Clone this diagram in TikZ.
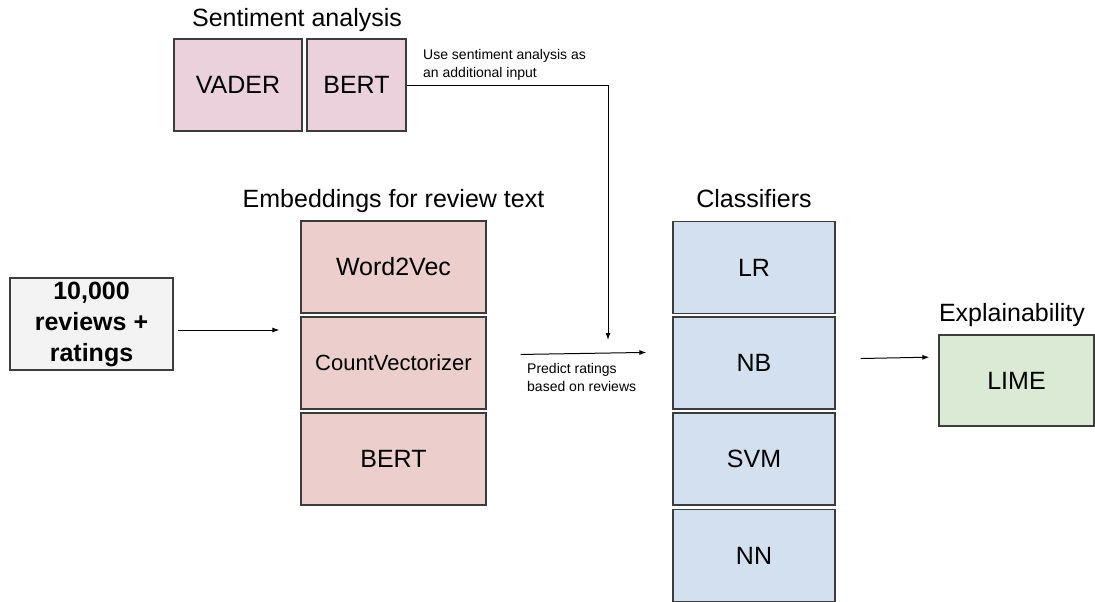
\documentclass[tikz,border=0pt]{standalone}
\usepackage{fontspec}
\setmainfont{Liberation Sans}
\usetikzlibrary{arrows.meta}
\definecolor{sentfill}{RGB}{234,209,220}
\definecolor{embfill}{RGB}{236,207,205}
\definecolor{clsfill}{RGB}{211,224,240}
\definecolor{limefill}{RGB}{218,234,212}
\definecolor{infill}{RGB}{243,243,243}
\definecolor{edge}{RGB}{60,60,60}

\begin{document}
\begin{tikzpicture}[x=1pt, y=-1pt,
        box/.style={draw=edge, line width=1.2pt, inner sep=0pt, minimum height=92pt, font=\fontsize{25}{30}\selectfont},
        title/.style={anchor=base, font=\fontsize{25}{30}\selectfont},
        note/.style={anchor=north west, inner sep=0pt, align=left, font=\fontsize{14}{18}\selectfont},
        arr/.style={-{Latex[length=7pt,width=5pt]}, line width=1pt}]
    \useasboundingbox (0,0) rectangle (1095,602);

    % Sentiment analysis
    \node[title] at (297,27) {Sentiment analysis};
    \node[box, fill=sentfill, minimum width=128pt] (vader) at (238,85) {VADER};
    \node[box, fill=sentfill, minimum width=99pt] (sbert) at (356.5,85) {BERT};

    % Input
    \node[box, fill=infill, minimum width=163pt, align=center, font=\bfseries\fontsize{25}{31}\selectfont] (in) at (91.5,324) {10,000\\reviews +\\ratings};

    % Embeddings
    \node[title] at (393.5,207) {Embeddings for review text};
    \node[box, fill=embfill, minimum width=185pt] (w2v) at (393.5,267) {Word2Vec};
    \node[box, fill=embfill, minimum width=185pt, font=\fontsize{22}{26}\selectfont] (cv) at (393.5,363) {CountVectorizer};
    \node[box, fill=embfill, minimum width=185pt] (ebert) at (393.5,459) {BERT};

    % Classifiers
    \node[title] at (754,207) {Classifiers};
    \foreach \lbl/\yy [count=\i] in {LR/267.5, NB/363, SVM/459, NN/555.5}
        \node[box, fill=clsfill, minimum width=162pt] (c\i) at (754,\yy) {\lbl};

    % Explainability
    \node[title] at (1012,321) {Explainability};
    \node[box, fill=limefill, minimum width=155pt, minimum height=91pt] (lime) at (1016.5,380.5) {LIME};

    % Arrows
    \coordinate (join) at (608,340);
    \draw[arr] (sbert.east) -| (join);
    \node[note] at (423,49) {Use sentiment analysis as\\an additional input};

    \draw[arr, shorten <=4pt, shorten >=21pt] ([yshift=-6pt]in.east) -- ([yshift=-6pt]in.east -| cv.west);

    \draw[arr, shorten <=34pt, shorten >=26pt] ([yshift=8pt]cv.east) -- ([yshift=11pt]c2.west);
    \node[note] at (527,363) {Predict ratings\\based on reviews};

    \draw[arr, shorten <=25pt, shorten >=9pt] ([yshift=4pt]c2.east) -- ([yshift=23.5pt]lime.west);
\end{tikzpicture}
\end{document}
